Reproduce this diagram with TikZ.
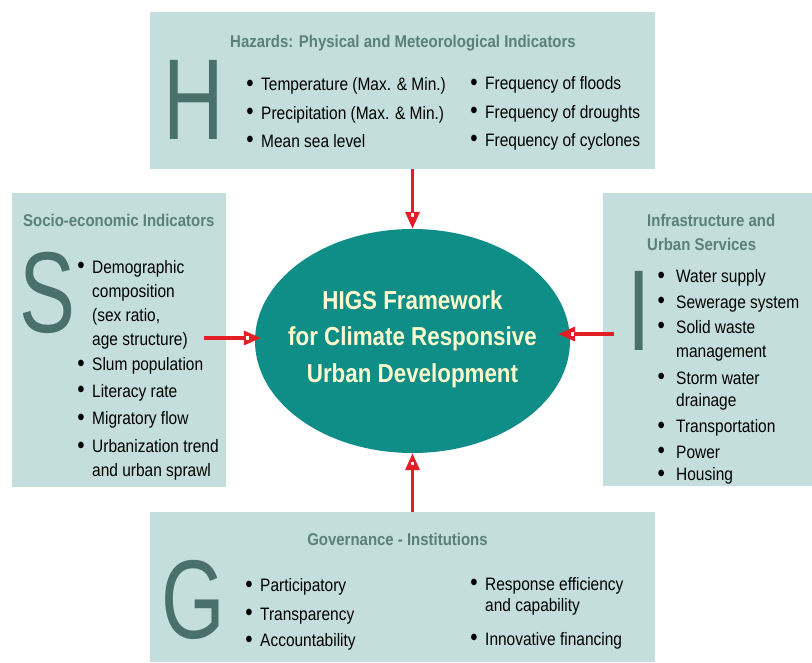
\documentclass[tikz,border=0pt]{standalone}
\usepackage{fontspec}
\setmainfont{Liberation Sans}[FakeStretch=0.86]
\newfontfamily\letterfont{Liberation Sans}[FakeStretch=0.73]
\newfontfamily\titlefont{Liberation Sans}[FakeStretch=0.88]
\newfontfamily\ellfont{Liberation Sans}[FakeStretch=0.86]
\usetikzlibrary{arrows.meta,shapes.geometric}
\definecolor{boxfill}{HTML}{C3DEDC}
\definecolor{lettercol}{HTML}{4A706E}
\definecolor{titlecol}{HTML}{5A807C}
\definecolor{ellfill}{HTML}{0E8E87}
\definecolor{elltext}{HTML}{FFFACD}
\definecolor{arrowred}{HTML}{E31E24}
\newcommand\bigbul{\raisebox{-0.6pt}{\scalebox{1.35}{\textbullet}}}
\newcommand\bul{\llap{\bigbul\hspace{7.5pt}}}
\newcommand\bulw{\llap{\bigbul\hspace{11.3pt}}}
\begin{document}
\begin{tikzpicture}[x=1pt,y=-1pt,
  box/.style={rectangle, fill=boxfill, draw=none, inner sep=0},
  bigletter/.style={font=\fontsize{115}{115}\letterfont, text=lettercol, anchor=base, inner sep=0},
  ttl/.style={font=\fontsize{17}{24}\titlefont\bfseries, text=titlecol, inner sep=0, anchor=base},
  ttlw/.style={ttl, anchor=base west},
  item/.style={font=\fontsize{18}{18}\selectfont, anchor=base west, inner sep=0},
  elltxt/.style={text=elltext, align=center, inner sep=0, font=\fontsize{26}{36.5}\ellfont\bfseries},
  conn/.style={draw=arrowred, line width=3.5pt, -{Triangle[length=17pt,width=14pt]}}
]
\useasboundingbox (0,0) rectangle (812,662);

% boxes
\node[box, minimum width=505pt, minimum height=157pt] (hbox) at (402.5,90.5) {};
\node[box, minimum width=214pt, minimum height=294pt] (sbox) at (119,340) {};
\node[box, minimum width=209pt, minimum height=293pt] (ibox) at (707.5,339.5) {};
\node[box, minimum width=505pt, minimum height=150pt] (gbox) at (402.5,587) {};

% central ellipse
\node[ellipse, fill=ellfill, minimum width=315pt, minimum height=224pt, inner sep=0] (fw) at (412.5,341) {};
\node[elltxt] (fwtext) at (412.5,339) {HIGS Framework\\for Climate Responsive\\Urban Development};

% H box
\node[ttl] (htitle) at (403,47) {Hazards: Physical and Meteorological Indicators};
\node[bigletter] (hletter) at (193.5,139) {H};
\node[item] (h1) at (261,90.5) {\bul Temperature (Max. \& Min.)};
\node[item] (h2) at (261,119) {\bul Precipitation (Max. \& Min.)};
\node[item] (h3) at (261,147) {\bul Mean sea level};
\node[item] (h4) at (485,89.5) {\bul Frequency of floods};
\node[item] (h5) at (485,118) {\bul Frequency of droughts};
\node[item] (h6) at (485,146) {\bul Frequency of cyclones};

% S box
\node[ttlw] (stitle) at (23,226) {Socio-economic Indicators};
\node[bigletter] (sletter) at (47,332) {S};
\node[item] (s1) at (92,273) {\bul Demographic};
\node[item] (s1b) at (92,297.5) {composition};
\node[item] (s1c) at (92,321.5) {(sex ratio,};
\node[item] (s1d) at (92,345.5) {age structure)};
\node[item] (s2) at (92,370.5) {\bul Slum population};
\node[item] (s3) at (92,397) {\bul Literacy rate};
\node[item] (s4) at (92,424.5) {\bul Migratory flow};
\node[item] (s5) at (92,452.5) {\bul Urbanization trend};
\node[item] (s5b) at (92,476.5) {and urban sprawl};

% I box
\node[ttlw] (ititle) at (647,226.5) {Infrastructure and};
\node[ttlw] (ititleb) at (647,250) {Urban Services};
\node[bigletter] (iletter) at (639,350) {I};
\node[item] (i1) at (676,282.5) {\bulw Water supply};
\node[item] (i2) at (676,308) {\bulw Sewerage system};
\node[item] (i3) at (676,333.3) {\bulw Solid waste};
\node[item] (i3b) at (676,357.7) {management};
\node[item] (i4) at (676,384) {\bulw Storm water};
\node[item] (i4b) at (676,406.7) {drainage};
\node[item] (i5) at (676,432.7) {\bulw Transportation};
\node[item] (i6) at (676,458.3) {\bulw Power};
\node[item] (i7) at (676,480.7) {\bulw Housing};

% G box
\node[ttl] (gtitle) at (397.5,545) {Governance - Institutions};
\node[bigletter, font=\fontsize{112}{112}\letterfont] (gletter) at (193.5,638) {G};
\node[item] (g1) at (260,591.5) {\bul Participatory};
\node[item] (g2) at (260,620) {\bul Transparency};
\node[item] (g3) at (260,646.5) {\bul Accountability};
\node[item] (g4) at (485,590) {\bul Response efficiency};
\node[item] (g4b) at (485,611.7) {and capability};
\node[item] (g5) at (485,645) {\bul Innovative financing};

% connectors
\coordinate (sa) at (204,338);
\coordinate (ra) at (614,334);
\draw[conn] (fw.north |- hbox.south) -- (fw.north);
\draw[conn] (fw.south |- gbox.north) -- (fw.south);
\draw[conn] (sa) -- ([xshift=6pt]sa -| fw.west);
\draw[conn] (ra) -- ([xshift=-12pt]ra -| fw.east);
% white marks at arrow-head bases
\fill[white] ([shift={(-1.8pt,15.8pt)}]fw.north) rectangle ++(3.6,3.6);
\fill[white] ([shift={(-1.8pt,-12.2pt)}]fw.south) rectangle ++(3.6,-3.6);
\fill[white] (245.5,336.2) rectangle ++(3.6,3.6);
\fill[white] (570.5,332.2) rectangle ++(3.6,3.6);
\end{tikzpicture}
\end{document}
